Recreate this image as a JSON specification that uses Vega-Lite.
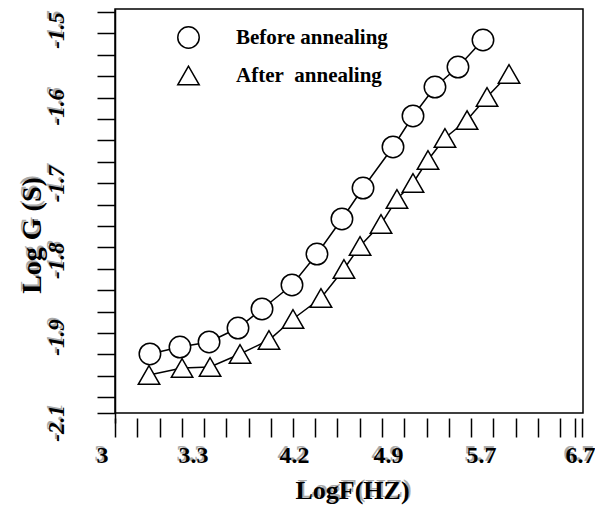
{
  "$schema": "https://vega.github.io/schema/vega-lite/v6.json",
  "width": 468,
  "height": 404,
  "autosize": {"type": "none"},
  "padding": {"left": 115, "top": 9, "right": 12, "bottom": 95},
  "background": "white",
  "config": {
    "view": {"stroke": "black", "strokeWidth": 1.5},
    "axis": {"grid": false, "domainColor": "black", "tickColor": "black", "labelColor": "black", "titleColor": "black"}
  },
  "data": {
    "values": [
      {"series": "Before annealing", "logF": 3.158, "logG": -1.9395},
      {"series": "Before annealing", "logF": 3.257, "logG": -1.9233},
      {"series": "Before annealing", "logF": 3.443, "logG": -1.9116},
      {"series": "Before annealing", "logF": 3.701, "logG": -1.8883},
      {"series": "Before annealing", "logF": 3.915, "logG": -1.8635},
      {"series": "Before annealing", "logF": 4.182, "logG": -1.8322},
      {"series": "Before annealing", "logF": 4.371, "logG": -1.7919},
      {"series": "Before annealing", "logF": 4.557, "logG": -1.7462},
      {"series": "Before annealing", "logF": 4.714, "logG": -1.7059},
      {"series": "Before annealing", "logF": 4.943, "logG": -1.6524},
      {"series": "Before annealing", "logF": 5.115, "logG": -1.6120},
      {"series": "Before annealing", "logF": 5.304, "logG": -1.5743},
      {"series": "Before annealing", "logF": 5.502, "logG": -1.5482},
      {"series": "Before annealing", "logF": 5.720, "logG": -1.5130},
      {"series": "After\u00a0\u00a0annealing", "logF": 3.155, "logG": -1.9884},
      {"series": "After\u00a0\u00a0annealing", "logF": 3.264, "logG": -1.9721},
      {"series": "After\u00a0\u00a0annealing", "logF": 3.452, "logG": -1.9698},
      {"series": "After\u00a0\u00a0annealing", "logF": 3.719, "logG": -1.9395},
      {"series": "After\u00a0\u00a0annealing", "logF": 3.977, "logG": -1.9070},
      {"series": "After\u00a0\u00a0annealing", "logF": 4.191, "logG": -1.8765},
      {"series": "After\u00a0\u00a0annealing", "logF": 4.401, "logG": -1.8492},
      {"series": "After\u00a0\u00a0annealing", "logF": 4.572, "logG": -1.8114},
      {"series": "After\u00a0\u00a0annealing", "logF": 4.692, "logG": -1.7814},
      {"series": "After\u00a0\u00a0annealing", "logF": 4.848, "logG": -1.7528},
      {"series": "After\u00a0\u00a0annealing", "logF": 4.977, "logG": -1.7202},
      {"series": "After\u00a0\u00a0annealing", "logF": 5.115, "logG": -1.6993},
      {"series": "After\u00a0\u00a0annealing", "logF": 5.244, "logG": -1.6694},
      {"series": "After\u00a0\u00a0annealing", "logF": 5.390, "logG": -1.6407},
      {"series": "After\u00a0\u00a0annealing", "logF": 5.580, "logG": -1.6173},
      {"series": "After\u00a0\u00a0annealing", "logF": 5.761, "logG": -1.5873},
      {"series": "After\u00a0\u00a0annealing", "logF": 5.983, "logG": -1.5573}
    ]
  },
  "layer": [
    {
      "transform": [{"filter": "datum.series === 'Before annealing'"}],
      "mark": {"type": "line", "color": "black", "strokeWidth": 1.5},
      "encoding": {
        "x": {
          "field": "logF", "type": "quantitative",
          "scale": {"domain": [3, 3.3, 4.2, 4.9, 5.7, 6.73], "range": [-13, 78, 179, 273, 366, 468], "zero": false, "nice": false},
          "axis": {
            "orient": "bottom", "title": null, "labels": false, "domain": false,
            "offset": 5, "tickSize": 19, "tickWidth": 1.5,
            "values": [3.0429, 3.1162, 3.1896, 3.2629, 3.398, 3.5963, 3.7946, 3.9928, 4.1911, 4.3582, 4.5239, 4.6896, 4.8553, 5.0398, 5.2312, 5.4226, 5.614, 5.8237, 6.0485, 6.2732, 6.498, 6.6495, 6.7202]
          }
        },
        "y": {
          "field": "logG", "type": "quantitative",
          "scale": {"domain": [-2.1, -1.9, -1.4726], "range": [414, 328, 0], "zero": false, "nice": false},
          "axis": {
            "orient": "left", "title": null, "labels": false, "domain": true, "domainWidth": 1.5,
            "tickSize": 18, "tickWidth": 1.5,
            "values": [-1.4765, -1.5044, -1.5323, -1.5602, -1.5881, -1.6159, -1.6437, -1.6716, -1.6995, -1.7274, -1.7552, -1.7831, -1.811, -1.8389, -1.8668, -1.8945, -1.94, -1.9898, -2.0395, -2.0767]
          }
        }
      }
    },
    {
      "transform": [{"filter": "datum.series !== 'Before annealing'"}],
      "mark": {"type": "line", "color": "black", "strokeWidth": 1.5},
      "encoding": {
        "x": {
          "field": "logF", "type": "quantitative",
          "scale": {"domain": [3, 3.3, 4.2, 4.9, 5.7, 6.73], "range": [-13, 78, 179, 273, 366, 468], "zero": false, "nice": false},
          "axis": {
            "orient": "bottom", "ticks": false, "tickSize": 0, "domain": false,
            "values": [3, 3.3, 4.2, 4.9, 5.7, 6.7],
            "labelExpr": "'' + datum.value",
            "labelColor": "#aaaaaa",
            "labelFont": "Liberation Serif", "labelFontWeight": "bold", "labelFontSize": 24,
            "labelPadding": 28, "labelOffset": -2, "labelBaseline": "top", "labelAlign": "center",
            "labelFlush": false, "labelOverlap": false, "labelBound": false,
            "title": "LogF(HZ)", "titleColor": "#aaaaaa", "titleFont": "Liberation Serif", "titleFontWeight": "bold", "titleFontSize": 26,
            "titleX": 239, "titleY": 75, "titleAlign": "center", "titleBaseline": "middle"
          }
        },
        "y": {
          "field": "logG", "type": "quantitative",
          "scale": {"domain": [-2.1, -1.9, -1.4726], "range": [414, 328, 0], "zero": false, "nice": false},
          "axis": {
            "orient": "left", "ticks": false, "tickSize": 0, "domain": false,
            "values": [-1.5, -1.6, -1.7, -1.8, -1.9, -2.1],
            "labelExpr": "'' + datum.value",
            "labelColor": "#aaaaaa",
            "labelFont": "Liberation Serif", "labelFontWeight": "bold", "labelFontStyle": "italic", "labelFontSize": 23,
            "labelAngle": 270, "labelAlign": "center", "labelBaseline": "middle", "labelPadding": 61, "labelOffset": -2,
            "labelFlush": false, "labelOverlap": false, "labelBound": false,
            "title": "Log G (S)", "titleColor": "#aaaaaa", "titleFont": "Liberation Serif", "titleFontWeight": "bold", "titleFontSize": 28,
            "titleAngle": 270, "titleX": -85, "titleY": 224, "titleAlign": "center", "titleBaseline": "middle"
          }
        }
      }
    },
    {
      "mark": {"type": "point", "filled": true, "strokeWidth": 1.5, "size": 460, "opacity": 1},
      "encoding": {
        "x": {
          "field": "logF", "type": "quantitative",
          "scale": {"domain": [3, 3.3, 4.2, 4.9, 5.7, 6.73], "range": [-13, 78, 179, 273, 366, 468], "zero": false, "nice": false},
          "axis": {
            "orient": "bottom", "ticks": false, "tickSize": 0, "domain": false,
            "values": [3, 3.3, 4.2, 4.9, 5.7, 6.7],
            "labelExpr": "'' + datum.value",
            "labelFont": "Liberation Serif", "labelFontWeight": "bold", "labelFontSize": 24,
            "labelPadding": 30, "labelBaseline": "top", "labelAlign": "center",
            "labelFlush": false, "labelOverlap": false, "labelBound": false,
            "title": "LogF(HZ)", "titleFont": "Liberation Serif", "titleFontWeight": "bold", "titleFontSize": 26,
            "titleX": 237, "titleY": 77, "titleAlign": "center", "titleBaseline": "middle"
          }
        },
        "y": {
          "field": "logG", "type": "quantitative",
          "scale": {"domain": [-2.1, -1.9, -1.4726], "range": [414, 328, 0], "zero": false, "nice": false},
          "axis": {
            "orient": "left", "ticks": false, "tickSize": 0, "domain": false,
            "values": [-1.5, -1.6, -1.7, -1.8, -1.9, -2.1],
            "labelExpr": "'' + datum.value",
            "labelFont": "Liberation Serif", "labelFontWeight": "bold", "labelFontStyle": "italic", "labelFontSize": 23,
            "labelAngle": 270, "labelAlign": "center", "labelBaseline": "middle", "labelPadding": 59,
            "labelFlush": false, "labelOverlap": false, "labelBound": false,
            "title": "Log G (S)", "titleFont": "Liberation Serif", "titleFontWeight": "bold", "titleFontSize": 28,
            "titleAngle": 270, "titleX": -83, "titleY": 226, "titleAlign": "center", "titleBaseline": "middle"
          }
        },
        "fill": {"value": "white"},
        "stroke": {"value": "black"},
        "shape": {
          "field": "series", "type": "nominal",
          "scale": {"domain": ["Before annealing", "After\u00a0\u00a0annealing"], "range": ["circle", "triangle-up"]},
          "legend": {
            "title": null, "orient": "none", "legendX": 62, "legendY": 17,
            "symbolSize": 460, "symbolStrokeWidth": 1.5, "symbolOpacity": 1,
            "labelFont": "Liberation Serif", "labelFontWeight": "bold", "labelFontSize": 21, "labelColor": "black",
            "labelOffset": 36, "rowPadding": 11, "labelLimit": 300,
            "encode": {
              "labels": {"update": {"dy": {"value": 6}}}
            }
          }
        }
      }
    }
  ],
  "resolve": {"axis": {"x": "independent", "y": "independent"}}
}
